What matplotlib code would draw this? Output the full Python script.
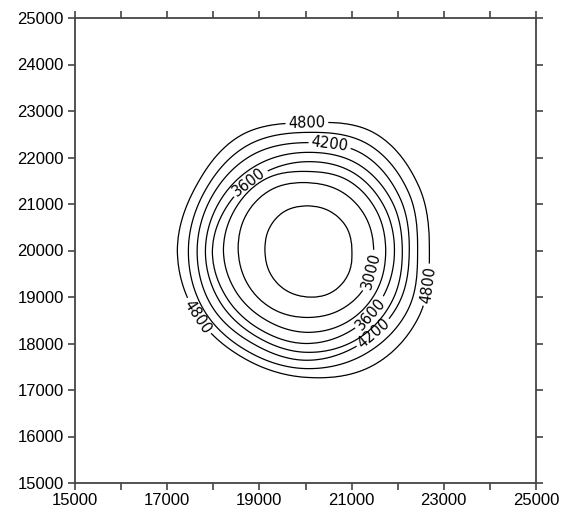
import numpy as np
import matplotlib
matplotlib.use("Agg")
import matplotlib.pyplot as plt

plt.rcParams["font.family"] = ["Liberation Sans", "DejaVu Sans"]

# contour levels and which ones carry a label
levels = [2700, 3000, 3300, 3600, 3900, 4200, 4500, 4800]
label_levels = [3000, 3600, 4200, 4800]

# centre of the closed contours (m)
center_x = 20030
center_y = 19990

# distance (m) from the centre to each contour, read at these directions
angles_deg = [0, 30, 60, 90, 120, 150, 180, 210, 240, 270, 300, 330]
r_2700 = [980, 1000, 990, 970, 980, 950, 910, 930, 960, 990, 1040, 1030]
r_3000 = [1450, 1470, 1480, 1470, 1530, 1530, 1490, 1470, 1450, 1430, 1460, 1480]
r_3300 = [1710, 1740, 1760, 1710, 1790, 1800, 1810, 1770, 1730, 1750, 1760, 1740]
r_3600 = [1900, 1930, 1960, 1920, 1920, 1980, 2050, 2010, 1970, 1990, 1960, 1920]
r_3900 = [2070, 2130, 2170, 2120, 2140, 2170, 2200, 2180, 2140, 2180, 2190, 2140]
r_4200 = [2220, 2320, 2410, 2330, 2380, 2370, 2380, 2380, 2310, 2350, 2310, 2290]
r_4500 = [2400, 2540, 2650, 2550, 2610, 2560, 2570, 2570, 2510, 2530, 2550, 2530]
r_4800 = [2660, 2800, 2930, 2760, 2870, 2780, 2810, 2760, 2680, 2720, 2850, 2810]

# where the labels sit (x, y)
label_pos = [(20030, 22740), (20530, 22310), (18800, 21450), (21340, 19580),
             (21400, 18660), (21470, 18230), (22660, 19260), (17650, 18570)]

x_ticks = list(range(15000, 25001, 2000))
x_minor = list(range(15000, 25001, 1000))
y_ticks = list(range(15000, 25001, 1000))


def radius_curve(th_deg, samples):
    # periodic Catmull-Rom through the read radii
    s = np.asarray(samples, dtype=float)
    n = len(s)
    u = th_deg / (360.0 / n)
    i = np.floor(u).astype(int) % n
    t = u - np.floor(u)
    p0, p1, p2, p3 = s[(i - 1) % n], s[i], s[(i + 1) % n], s[(i + 2) % n]
    return 0.5 * (2 * p1 + (p2 - p0) * t
                  + (2 * p0 - 5 * p1 + 4 * p2 - p3) * t ** 2
                  + (3 * p1 - p0 - 3 * p2 + p3) * t ** 3)


def build_field(xx, yy):
    """value on the grid so that each level follows its read radii"""
    radii = [r_2700, r_3000, r_3300, r_3600, r_3900, r_4200, r_4500, r_4800]
    th = np.degrees(np.arctan2(yy - center_y, xx - center_x)) % 360
    r = np.hypot(xx - center_x, yy - center_y)
    R = np.array([radius_curve(th, rk) for rk in radii])

    z = np.empty_like(r)
    inner = r < R[0]
    z[inner] = levels[0] - (R[0] - r)[inner] / R[0][inner] * 300
    for k in range(len(levels) - 1):
        m = (r >= R[k]) & (r < R[k + 1])
        frac = (r - R[k])[m] / (R[k + 1] - R[k])[m]
        z[m] = levels[k] + frac * (levels[k + 1] - levels[k])
    outer = r >= R[-1]
    z[outer] = levels[-1] + (r - R[-1])[outer] * 2.0
    return z


def main():
    xs = np.linspace(15000, 25000, 501)
    ys = np.linspace(15000, 25000, 501)
    X, Y = np.meshgrid(xs, ys)
    Z = build_field(X, Y)

    fig = plt.figure(figsize=(5.64, 5.09), dpi=100)
    ax = fig.add_axes([75 / 564, 26 / 509, 461 / 564, 465 / 509])

    plain = [lv for lv in levels if lv not in label_levels]
    ax.contour(X, Y, Z, levels=plain, colors="k", linewidths=0.9)
    cs = ax.contour(X, Y, Z, levels=label_levels, colors="k", linewidths=0.9)
    labels = ax.clabel(cs, manual=label_pos, fmt="%d",
                       fontsize=10.5, inline=True, inline_spacing=5)
    for t in labels:
        t.set_family("DejaVu Sans")

    ax.set_xlim(15000, 25000)
    ax.set_ylim(15000, 25000)
    ax.set_xticks(x_ticks)
    ax.set_xticks(x_minor, minor=True)
    ax.set_yticks(y_ticks)

    ax.tick_params(which="both", direction="out", length=5, width=1.2,
                   top=True, right=True, color="#444444", labelsize=12)
    ax.tick_params(axis="x", pad=2)
    ax.tick_params(axis="y", pad=3)
    for s in ax.spines.values():
        s.set_linewidth(1.3)
        s.set_color("#444444")

    fig.savefig("out.png", dpi=100)
    plt.close(fig)


if __name__ == "__main__":
    main()
